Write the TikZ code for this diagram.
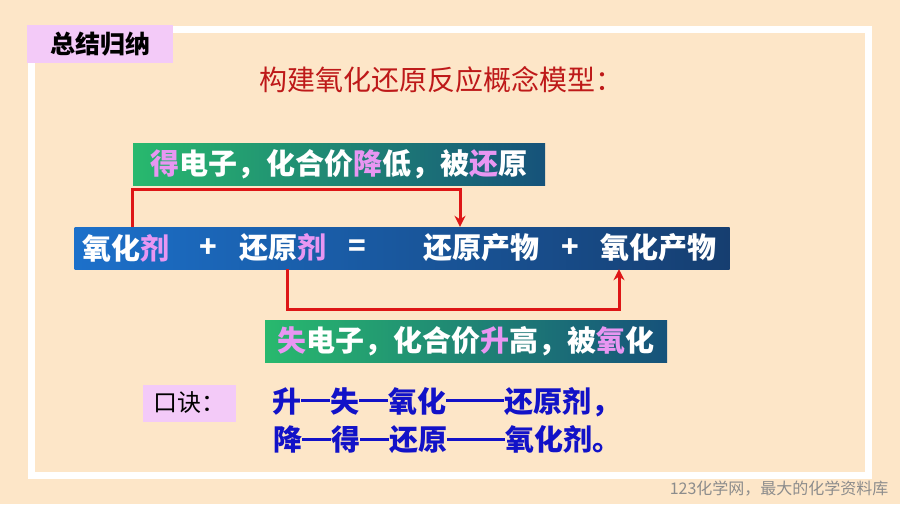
\documentclass[tikz,border=0pt]{standalone}
\usepackage{fontspec}
\setmainfont{Noto Sans CJK SC}
\usetikzlibrary{arrows.meta}
\definecolor{peach}{RGB}{253,230,200}
\definecolor{labpink}{RGB}{243,202,248}
\definecolor{hlpink}{RGB}{232,150,242}
\definecolor{linered}{RGB}{222,22,22}
\definecolor{titlered}{RGB}{190,25,25}
\definecolor{rhymeblue}{RGB}{18,18,200}
\newcommand{\hl}[1]{\textcolor{hlpink}{#1}}
\newcommand{\dsh}[1]{\rule[10pt]{#1em}{3pt}}

\begin{document}
\begin{tikzpicture}[x=1pt, y=-1pt,
    label/.style={fill=labpink, inner sep=0pt},
    gbox/.style={left color={rgb,255:red,40;green,185;blue,110}, right color={rgb,255:red,22;green,82;blue,122},
        text=white, inner sep=0pt, minimum height=42pt, font=\bfseries\fontsize{29}{29}\selectfont},
    bar/.style={left color={rgb,255:red,28;green,112;blue,202}, right color={rgb,255:red,22;green,62;blue,112},
        inner sep=0pt, minimum height=42pt, minimum width=655pt},
    word/.style={text=white, inner sep=0pt, minimum height=42pt, font=\bfseries\fontsize{29}{29}\selectfont},
    rhyme/.style={anchor=west, inner sep=0pt, text=rhymeblue, font=\bfseries\fontsize{29}{29}\selectfont},
    conn/.style={linered, line width=3pt, -{Stealth[length=11pt,width=11pt]}}]
    \useasboundingbox (0,0) rectangle (900,504);
    \fill[peach] (0,0) rectangle (900,504);
    \draw[white, line width=7pt] (31,29) rectangle (868,475);
    \node[label, minimum width=146pt, minimum height=38pt, font=\bfseries\fontsize{25}{25}\selectfont] (sum) at (100,44) {总结归纳};
    \node[text=titlered, font=\fontsize{28}{28}\selectfont] (title) at (441,80) {构建氧化还原反应概念模型：};
    % gain / loss boxes
    \node[gbox, minimum width=412pt] (gain) at (339,164) {\hl{得}电子，化合价\hl{降}低，被\hl{还}原};
    \node[gbox, minimum width=402pt] (loss) at (466,341) {\hl{失}电子，化合价\hl{升}高，被\hl{氧}化};
    % equation bar
    \node[bar] (eqbar) at (402,248) {};
    \node[word] (ox) at (126,248) {氧化\hl{剂}};
    \node[word] (p1) at (208,248) {+};
    \node[word] (re) at (283,248) {还原\hl{剂}};
    \node[word] (eq) at (357,248) {=};
    \node[word] (rp) at (481,248) {还原产物};
    \node[word] (p2) at (570,248) {+};
    \node[word] (op) at (658,248) {氧化产物};
    \draw[conn] ([xshift=6pt]ox.north) -- ++(0,-37) -| ([xshift=-21pt]rp.north);
    \draw[conn] ([xshift=4pt]re.south) -- ++(0,40) -| ([xshift=-39pt]op.south);
    % rhyme
    \node[label, minimum width=93pt, minimum height=37pt, font=\fontsize{24}{24}\selectfont] (kj) at (189.5,403) {口诀：};
    \node[rhyme] (rh1) at (272,402) {升\dsh{1}失\dsh{1}氧化\dsh{2}还原剂，};
    \node[rhyme] (rh2) at (273,440) {降\dsh{1}得\dsh{1}还原\dsh{2}氧化剂。};
    \node[anchor=east, text=black!45, font=\fontsize{16}{16}\selectfont] (mark) at (892,489) {123化学网，最大的化学资料库};
\end{tikzpicture}
\end{document}
